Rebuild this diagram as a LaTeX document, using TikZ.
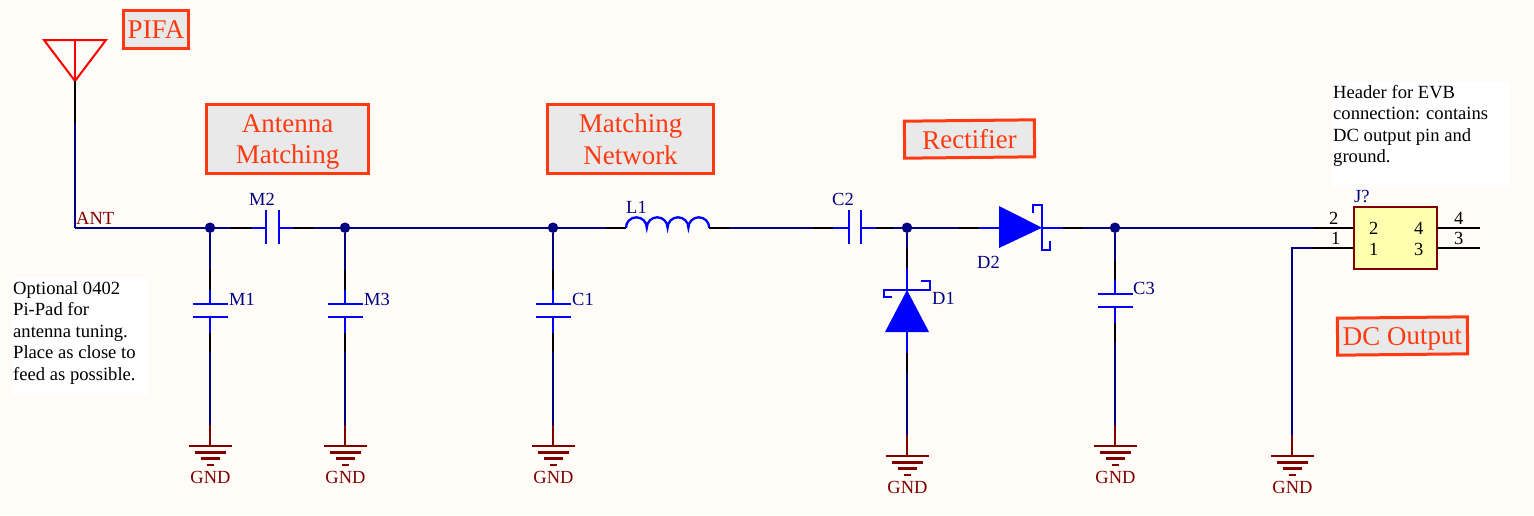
\documentclass[tikz,border=0pt]{standalone}
\usepackage{fontspec}
\setmainfont{Liberation Serif}
\usetikzlibrary{positioning}
\definecolor{wirecol}{HTML}{000080}
\definecolor{bodycol}{HTML}{0000FF}
\definecolor{gndcol}{HTML}{800000}
\definecolor{antcol}{HTML}{FF0000}
\definecolor{titlecol}{HTML}{FF3A12}
\definecolor{titlefill}{HTML}{E9E9E9}
\definecolor{paper}{HTML}{FFFCF8}
\definecolor{jfill}{HTML}{FFFFB0}
\tikzset{
  wire/.style={wirecol, line width=2.3pt},
  stub/.style={black, line width=2.3pt},
  body/.style={bodycol, line width=2.3pt},
  gndwire/.style={gndcol, line width=2.3pt},
  junction/.style={circle, fill=wirecol, inner sep=0pt, minimum size=10.5pt},
  lbl/.style={anchor=base west, inner sep=0pt, text=wirecol, font=\fontsize{18.5}{21}\selectfont},
  pinlbl/.style={anchor=base west, inner sep=0pt, text=black, font=\fontsize{18.5}{21}\selectfont},
  titlebox/.style={draw=titlecol, fill=titlefill, line width=3pt, text=titlecol, align=center,
    inner sep=0pt, text depth=0pt, font=\fontsize{27}{31.5}\selectfont},
  notetext/.style={anchor=north west, align=left, inner sep=0pt,
    font=\fontsize{18.6}{21.5}\selectfont},
  gnd/.pic={
    \coordinate (-top) at (0,0);
    \draw[gndwire] (-21.5,0) -- (21.5,0);
    \draw[gndwire] (-15.5,6.5) -- (15.5,6.5);
    \draw[gndwire] (-9.5,12.5) -- (9.5,12.5);
    \draw[gndwire] (-3.5,19) -- (3.5,19);
    \node[anchor=base, inner sep=0pt, text=gndcol, font=\fontsize{18.5}{21}\selectfont] (-lbl) at (0.5,37) {GND};
  }
}
% shunt capacitor: name, x, y of upper plate, ground y
\newcommand{\shuntcap}[4]{
  \coordinate (#1a) at (#2,#3-34);
  \coordinate (#1b) at (#2,#3-14);
  \coordinate (#1c) at (#2,#3);
  \coordinate (#1d) at (#2,#3+13);
  \coordinate (#1e) at (#2,#3+29);
  \coordinate (#1f) at (#2,#3+48);
  \coordinate (#1g) at (#2,#4-21);
  \coordinate (#1pa) at (#2-17.5,#3);
  \coordinate (#1pb) at (#2+17.5,#3);
  \coordinate (#1pc) at (#2-17.5,#3+13);
  \coordinate (#1pd) at (#2+17.5,#3+13);
  \draw[wire] (#1j) -- (#1a);
  \draw[stub] (#1a) -- (#1b);
  \draw[body] (#1b) -- (#1c);
  \draw[body] (#1pa) -- (#1pb);
  \draw[body] (#1pc) -- (#1pd);
  \draw[body] (#1d) -- (#1e);
  \draw[stub] (#1e) -- (#1f);
  \draw[wire] (#1f) -- (#1g);
  \pic (#1gnd) at (#2,#4) {gnd};
  \draw[gndwire] (#1g) -- (#1gnd-top);
}
\begin{document}
\begin{tikzpicture}[x=1pt,y=-1pt]
  \useasboundingbox (0,0) rectangle (1534,515);
  \fill[paper] (0,0) rectangle (1534,515);

  % Titles and notes
  \node[titlebox, minimum width=65pt, minimum height=38pt] (pifa) at (156,29.5) {PIFA};
  \node[titlebox, minimum width=162pt, minimum height=69pt] (antmatch) at (287.5,139) {Antenna\\Matching};
  \node[titlebox, minimum width=166pt, minimum height=69pt] (matchnet) at (630.5,139) {Matching\\Network};
  \node[titlebox, rotate=0.6, minimum width=130pt, minimum height=37pt] (rect) at (969.5,139) {Rectifier};
  \node[titlebox, rotate=0.6, minimum width=130pt, minimum height=37pt] (dcout) at (1402.5,336) {DC Output};
  \fill[white] (12,278) rectangle (148,395);
  \node[notetext] (note1) at (13,281)
    {Optional 0402\\Pi-Pad for\\antenna tuning.\\Place as close to\\feed as possible.};
  \fill[white] (1332,82) rectangle (1510,187);
  \node[notetext] (note2) at (1333,85)
    {Header for EVB\\connection: contains\\DC output pin and\\ground.};

  % Antenna
  \coordinate (anttop) at (75,40);
  \coordinate (antl) at (44,40);
  \coordinate (antr) at (106,40);
  \coordinate (antapex) at (75,81);
  \coordinate (antpin) at (75,124);
  \coordinate (antcorner) at (75,227.7);
  \draw[antcol, line width=2pt, line join=miter] (antl) -- (antr) -- (antapex) -- cycle;
  \draw[antcol, line width=2pt] (anttop) -- (antapex);
  \draw[stub] (antapex) -- (antpin);
  \draw[wire] (antpin) -- (antcorner);
  \node[lbl, text=gndcol] (antlbl) at (76,224) {ANT};

  % Junctions
  \node[junction] (m1j) at (210,227.7) {};
  \node[junction] (m3j) at (345,227.7) {};
  \node[junction] (c1j) at (553,227.7) {};
  \node[junction] (d1j) at (907,227.7) {};
  \node[junction] (c3j) at (1115,227.7) {};

  % Top rail
  \draw[wire] (antcorner) -- (m1j);
  \coordinate (m2a) at (231,227.7);
  \coordinate (m2b) at (252,227.7);
  \coordinate (m2c) at (266,227.7);
  \coordinate (m2d) at (279,227.7);
  \coordinate (m2e) at (293,227.7);
  \coordinate (m2f) at (313,227.7);
  \coordinate (m2pa) at (266,210);
  \coordinate (m2pb) at (266,244);
  \coordinate (m2pc) at (279,210);
  \coordinate (m2pd) at (279,244);
  \draw[wire] (m1j) -- (m2a);
  \draw[stub] (m2a) -- (m2b);
  \draw[body] (m2b) -- (m2c);
  \draw[body] (m2pa) -- (m2pb);
  \draw[body] (m2pc) -- (m2pd);
  \draw[body] (m2d) -- (m2e);
  \draw[stub] (m2e) -- (m2f);
  \draw[wire] (m2f) -- (m3j);
  \node[lbl] (m2lbl) at (249,205) {M2};
  \draw[wire] (m3j) -- (c1j);

  % L1
  \coordinate (l1a) at (606,227.7);
  \coordinate (l1b) at (626,227.7);
  \coordinate (l1c) at (709,227.7);
  \coordinate (l1d) at (729,227.7);
  \draw[wire] (c1j) -- (l1a);
  \draw[stub] (l1a) -- (l1b);
  \draw[body] (l1b) arc[start angle=180, end angle=0, radius=10.4pt]
    arc[start angle=180, end angle=0, radius=10.4pt]
    arc[start angle=180, end angle=0, radius=10.4pt]
    arc[start angle=180, end angle=0, radius=10.4pt];
  \draw[stub] (l1c) -- (l1d);
  \node[lbl] (l1lbl) at (626,213) {L1};

  % C2
  \coordinate (c2a) at (813,227.7);
  \coordinate (c2b) at (833,227.7);
  \coordinate (c2c) at (849,227.7);
  \coordinate (c2d) at (861,227.7);
  \coordinate (c2e) at (876,227.7);
  \coordinate (c2f) at (893,227.7);
  \coordinate (c2pa) at (849,210);
  \coordinate (c2pb) at (849,244);
  \coordinate (c2pc) at (861,210);
  \coordinate (c2pd) at (861,244);
  \draw[wire] (l1d) -- (c2a);
  \draw[stub] (c2a) -- (c2b);
  \draw[body] (c2b) -- (c2c);
  \draw[body] (c2pa) -- (c2pb);
  \draw[body] (c2pc) -- (c2pd);
  \draw[body] (c2d) -- (c2e);
  \draw[stub] (c2e) -- (c2f);
  \draw[wire] (c2f) -- (d1j);
  \node[lbl] (c2lbl) at (832,205) {C2};

  % D2
  \coordinate (d2a) at (959,227.7);
  \coordinate (d2b) at (979,227.7);
  \coordinate (d2c) at (999,227.7);
  \coordinate (d2k) at (1042,227.7);
  \coordinate (d2d) at (1063,227.7);
  \coordinate (d2e) at (1083,227.7);
  \draw[wire] (d1j) -- (d2a);
  \draw[stub] (d2a) -- (d2b);
  \draw[body] (d2b) -- (d2c);
  \fill[bodycol] (999,206) -- (1042,227.7) -- (999,248) -- cycle;
  \draw[body] (1033,213) -- (1033,205) -- (1042,205) -- (1042,250) -- (1050,250) -- (1050,241);
  \draw[body] (d2k) -- (d2d);
  \draw[stub] (d2d) -- (d2e);
  \draw[wire] (d2e) -- (c3j);
  \node[lbl] (d2lbl) at (977,268) {D2};

  % D1
  \coordinate (d1a) at (907,248);
  \coordinate (d1b) at (907,268);
  \coordinate (d1k) at (907,290);
  \coordinate (d1c) at (907,332);
  \coordinate (d1d) at (907,353);
  \coordinate (d1e) at (907,373);
  \coordinate (d1f) at (907,435);
  \draw[wire] (d1j) -- (d1a);
  \draw[stub] (d1a) -- (d1b);
  \draw[body] (d1b) -- (d1k);
  \fill[bodycol] (907,290) -- (929,332) -- (885,332) -- cycle;
  \draw[body] (892,297) -- (884,297) -- (884,290) -- (930,290) -- (930,281) -- (921,281);
  \draw[body] (d1c) -- (d1d);
  \draw[stub] (d1d) -- (d1e);
  \draw[wire] (d1e) -- (d1f);
  \pic (d1gnd) at (907,456) {gnd};
  \draw[gndwire] (d1f) -- (d1gnd-top);
  \node[lbl] (d1lbl) at (932,304) {D1};

  % Shunt capacitors
  \shuntcap{m1}{210}{304}{446}
  \node[lbl] (m1lbl) at (229,305) {M1};
  \shuntcap{m3}{345}{304}{446}
  \node[lbl] (m3lbl) at (364,305) {M3};
  \shuntcap{c1}{553}{304}{446}
  \node[lbl] (c1lbl) at (572,305) {C1};
  \shuntcap{c3}{1115}{294}{446}
  \node[lbl] (c3lbl) at (1133,294) {C3};

  % Header
  \node[draw=gndcol, fill=jfill, line width=2pt, minimum width=83pt, minimum height=62pt, inner sep=0pt] (j1) at (1395.5,238) {};
  \node[lbl] (j1lbl) at (1354,202) {J?};
  \coordinate (pin2) at (1313,227.7);
  \coordinate (pin1) at (1313,247.7);
  \coordinate (pin4) at (1480,227.7);
  \coordinate (pin3) at (1480,247.7);
  \coordinate (pin2b) at (1353,227.7);
  \coordinate (pin1b) at (1353,247.7);
  \coordinate (pin4b) at (1437,227.7);
  \coordinate (pin3b) at (1437,247.7);
  \coordinate (retcorner) at (1292,247.7);
  \coordinate (retend) at (1292,435);
  \draw[wire] (c3j) -- (pin2);
  \draw[stub] (pin2) -- (pin2b);
  \draw[stub] (pin1) -- (pin1b);
  \draw[stub] (pin4b) -- (pin4);
  \draw[stub] (pin3b) -- (pin3);
  \draw[wire] (pin1) -- (retcorner) -- (retend);
  \pic (retgnd) at (1292,456) {gnd};
  \draw[gndwire] (retend) -- (retgnd-top);
  \node[pinlbl] (o2) at (1329,224) {2};
  \node[pinlbl] (o1) at (1331,244) {1};
  \node[pinlbl] (o4) at (1454,224) {4};
  \node[pinlbl] (o3) at (1454,244) {3};
  \node[pinlbl] (i2) at (1369,234) {2};
  \node[pinlbl] (i1) at (1369,255) {1};
  \node[pinlbl] (i4) at (1414,234) {4};
  \node[pinlbl] (i3) at (1414,255) {3};
\end{tikzpicture}
\end{document}
